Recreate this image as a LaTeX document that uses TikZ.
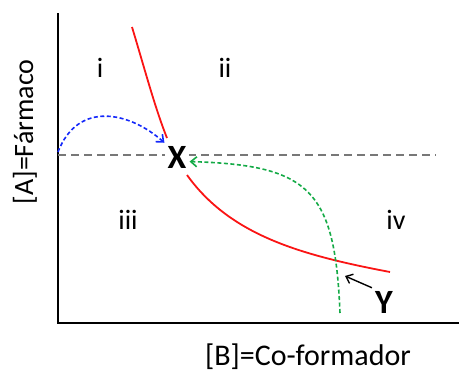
\documentclass[tikz,border=0pt]{standalone}
\usepackage{fontspec}
\setmainfont{Carlito}
\usepackage{tikz}
\usetikzlibrary{arrows.meta,positioning}
\definecolor{phred}{RGB}{250,20,20}
\definecolor{phblue}{RGB}{20,40,250}
\definecolor{phgreen}{RGB}{20,170,70}
\definecolor{phgray}{RGB}{120,120,120}

\begin{document}
\begin{tikzpicture}[
    x=1pt,
    y=-1pt,
    >={Straight Barb[length=6pt,width=10pt]},
    region/.style={font=\fontsize{28}{32}\selectfont},
    point/.style={font=\fontsize{34}{38}\selectfont\bfseries, inner sep=3pt},
    axislabel/.style={font=\fontsize{30}{34}\selectfont},
    path/.style={dashed, dash pattern=on 4pt off 2.5pt, line width=1.6pt, ->}
]

\useasboundingbox (0,0) rectangle (459,372);

% Axes
\draw[line width=1.4pt] (58,13) -- (58,323) -- (459,323);

% Labels on the axes
\node[
    axislabel,
    font=\fontsize{28}{32}\selectfont,
    rotate=90
] (ya)
at (25,132)
{[A]=Fármaco};

\node[
    axislabel
] (xb)
at (308,357)
{[B]=Co-formador};

% Region labels
\node[region] (ri) at (100,68) {i};
\node[region] (rii) at (225,68) {ii};
\node[region] (riii) at (128,220) {iii};
\node[region] (riv) at (396,220) {iv};

% Solubility curve
\draw[
    phred,
    line width=1.8pt
]
(132,27) .. controls (145,70) and (155,108) .. (167,138);

\draw[
    phred,
    line width=1.8pt
]
(187,175) .. controls (230,235) and (300,255) .. (390,272);

% Dashed reference line
\draw[
    phgray,
    line width=2.2pt,
    dash pattern=on 8pt off 5pt
]
(58,155) -- (436,155);

% Points
\node[
    point,
    fill=white
] (X)
at (177,157)
{X};

\node[
    point
] (Y)
at (384,302)
{Y};

\coordinate (bstart) at (58,152);
\coordinate (gstart) at (340,313);
\coordinate (ycross) at (345,276);

% Paths to X
\draw[
    path,
    phblue
]
(bstart) .. controls (78,100) and (130,112) .. (X.north west);

\draw[
    path,
    phgreen
]
(gstart) .. controls (335,190) and (310,165) .. (X.-20);

% Pointer to Y
\draw[
    ->,
    line width=1.4pt
]
(Y.north west) -- (ycross);
\end{tikzpicture}
\end{document}
